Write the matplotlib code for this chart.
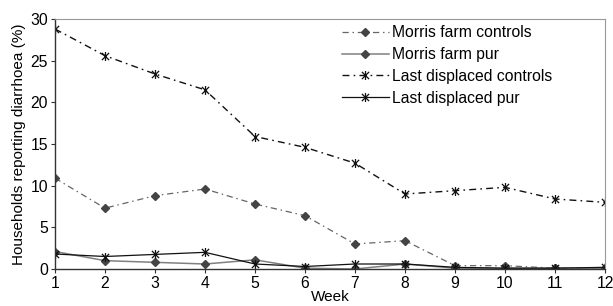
import matplotlib
matplotlib.use("Agg")
import matplotlib.pyplot as plt
from matplotlib.path import Path

plt.rcParams['font.family'] = ['Liberation Sans', 'DejaVu Sans']

weeks = [1, 2, 3, 4, 5, 6, 7, 8, 9, 10, 11, 12]
morris_controls = [10.9, 7.3, 8.8, 9.6, 7.8, 6.4, 3.0, 3.4, 0.4, 0.4, 0.1, 0.1]
morris_pur = [2.1, 1.0, 0.8, 0.6, 1.1, 0.1, 0.0, 0.6, 0.1, 0.1, 0.1, 0.1]
last_controls = [28.8, 25.6, 23.4, 21.5, 15.9, 14.6, 12.7, 9.0, 9.4, 9.8, 8.4, 8.0]
last_pur = [1.8, 1.5, 1.75, 2.0, 0.6, 0.3, 0.6, 0.6, 0.2, 0.1, 0.1, 0.2]
yticks = [0, 5, 10, 15, 20, 25, 30]

star = Path([(0, -1), (0, 1), (-0.8, -0.8), (0.8, 0.8), (-0.8, 0.8), (0.8, -0.8)],
            [Path.MOVETO, Path.LINETO, Path.MOVETO, Path.LINETO, Path.MOVETO, Path.LINETO])

fig = plt.figure(figsize=(6.13, 3.06), dpi=100)
ax = fig.add_axes([55/613, 37/306, 550/613, 250/306])

dashdot = (0, (5, 3, 1.2, 3))
ax.plot(weeks, morris_controls, color='#666666', linestyle=dashdot, lw=0.9,
        marker='D', ms=4, mfc='#444444', mec='#444444', label='Morris farm controls')
ax.plot(weeks, morris_pur, color='#808080', linestyle='-', lw=1.1,
        marker='D', ms=4, mfc='#444444', mec='#444444', label='Morris farm pur')
ax.plot(weeks, last_controls, color='#111111', linestyle=dashdot, lw=1.0,
        marker=star, ms=6.5, mec='#111111', mew=0.9, label='Last displaced controls')
ax.plot(weeks, last_pur, color='#111111', linestyle='-', lw=0.9,
        marker=star, ms=6.5, mec='#111111', mew=0.9, label='Last displaced pur')

ax.set_xlim(1, 12)
ax.set_ylim(0, 30)
ax.set_xticks(weeks)
ax.set_yticks(yticks)
ax.tick_params(labelsize=11.3, length=3, width=0.8, color='#333333', pad=2)
for s in ['top', 'right']:
    ax.spines[s].set_color('#999999')
    ax.spines[s].set_linewidth(0.8)
for s in ['left', 'bottom']:
    ax.spines[s].set_color('#333333')
    ax.spines[s].set_linewidth(1.0)

ax.set_xlabel('Week', fontsize=11, labelpad=-1)
ax.set_ylabel('Households reporting diarrhoea (%)', fontsize=11, labelpad=3)

leg = ax.legend(loc='upper right', frameon=False, fontsize=11.3, handlelength=3.0,
                handletextpad=0.2, labelspacing=0.43, borderaxespad=0.0,
                bbox_to_anchor=(0.915, 1.0))

fig.savefig('out.png', dpi=100)
